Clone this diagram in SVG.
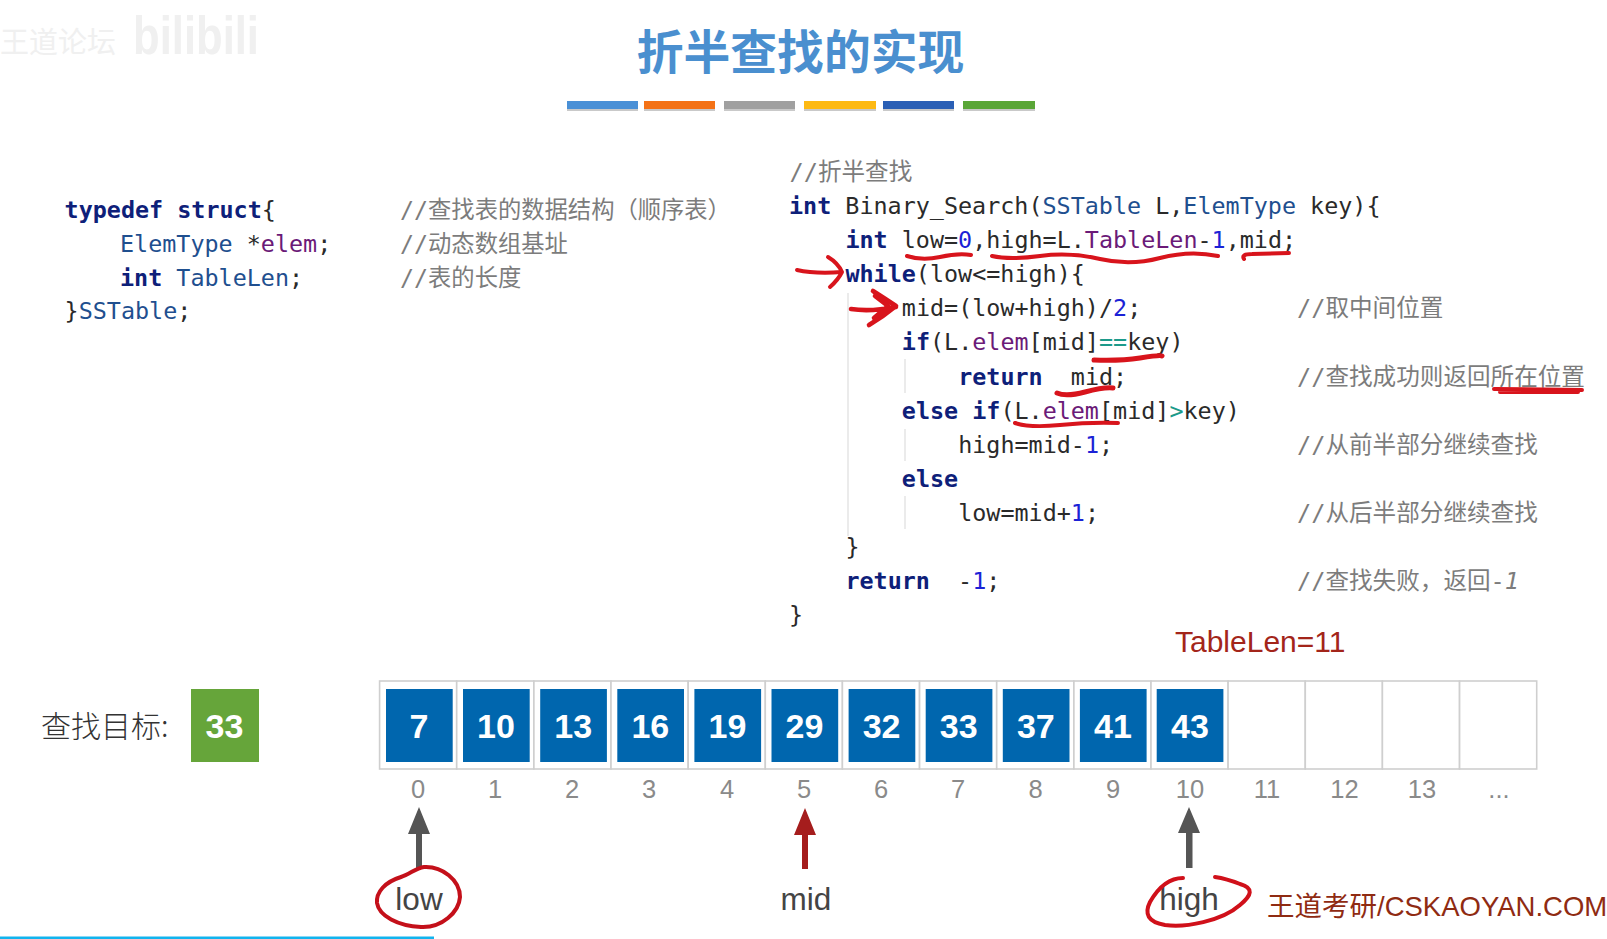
<svg xmlns="http://www.w3.org/2000/svg" width="1607" height="939" viewBox="0 0 1607 939">
<style>
text{white-space:pre}
.c{font-family:"DejaVu Sans Mono","Noto Sans CJK SC",monospace;font-size:23.4px;fill:#2a2a2a}
.k{font-weight:bold;fill:#0e2079}
.n{fill:#1b22d6}
.f{fill:#6b1a78}
.t{fill:#1f4f8f}
.o{fill:#1c9a8a}
.m{font-family:"DejaVu Sans Mono","Noto Sans CJK SC",monospace;font-size:23.6px;fill:#7c7c7c}
.s{font-size:23.3px}
.i{font-family:"Liberation Sans",sans-serif;font-size:25.5px;fill:#8a8a8a;text-anchor:middle}
.v{font-family:"Liberation Sans",sans-serif;font-size:34px;font-weight:bold;fill:#fff;text-anchor:middle}
.p{font-family:"Liberation Sans",sans-serif;font-size:31.5px;fill:#444;text-anchor:middle}
.cell{fill:#fff;stroke:#cfcfcf;stroke-width:1.6}
.box{fill:#0066ae}
.r{fill:none;stroke:#d8141c;stroke-width:4;stroke-linecap:round;stroke-linejoin:round}
.g{stroke:#e4e4e4;stroke-width:1.5}
</style>
<rect width="1607" height="939" fill="#fff"/>
<g id="watermark" fill="#f0f0f0">
<text x="0" y="53" font-family="'Noto Sans CJK SC',sans-serif" font-size="29">王道论坛</text>
<text x="133" y="54" font-family="'Liberation Sans',sans-serif" font-size="54" font-weight="bold" textLength="126" lengthAdjust="spacingAndGlyphs">bilibili</text>
</g>
<g id="title">
<text x="800.5" y="68.5" text-anchor="middle" font-family="'Noto Sans CJK SC',sans-serif" font-size="46.8" font-weight="bold" fill="#4a8fcf">折半查找的实现</text>
<rect x="567" y="103" width="71" height="8" fill="#c9c9c9"/><rect x="644" y="103" width="71" height="8" fill="#c9c9c9"/><rect x="724" y="103" width="71" height="8" fill="#c9c9c9"/><rect x="804" y="103" width="72" height="8" fill="#c9c9c9"/><rect x="883" y="103" width="71" height="8" fill="#c9c9c9"/><rect x="963" y="103" width="72" height="8" fill="#c9c9c9"/>
<rect x="567" y="101" width="71" height="8" fill="#4a90d6"/>
<rect x="644" y="101" width="71" height="8" fill="#f47216"/>
<rect x="724" y="101" width="71" height="8" fill="#a0a0a0"/>
<rect x="804" y="101" width="72" height="8" fill="#fdb913"/>
<rect x="883" y="101" width="71" height="8" fill="#2a5fb5"/>
<rect x="963" y="101" width="72" height="8" fill="#5aa637"/>
</g>
<g id="struct-code" transform="translate(-1,0.6)">
<text class="c" x="65.6" y="217"><tspan class="k">typedef struct</tspan>{</text>
<text class="c" x="121" y="251"><tspan class="t">ElemType</tspan> *<tspan class="f">elem</tspan>;</text>
<text class="c" x="121" y="285"><tspan class="k">int</tspan> <tspan class="t">TableLen</tspan>;</text>
<text class="c" x="65.6" y="318.5">}<tspan class="t">SSTable</tspan>;</text>
<text class="m s" x="401" y="217">//查找表的数据结构（顺序表）</text>
<text class="m s" x="401" y="251">//动态数组基址</text>
<text class="m s" x="401" y="285">//表的长度</text>
</g>
<g id="search-code" transform="translate(-1,1)">
<line class="g" x1="849" y1="292" x2="849" y2="535"/>
<line class="g" x1="906" y1="358" x2="906" y2="392"/>
<line class="g" x1="906" y1="428" x2="906" y2="460"/>
<line class="g" x1="906" y1="495" x2="906" y2="528"/>
<text class="m" x="790.500" y="179">//折半查找</text>
<text class="c" x="790" y="213"><tspan class="k">int</tspan> Binary_Search(<tspan class="t">SSTable</tspan> L,<tspan class="t">ElemType</tspan> key){</text>
<text class="c" x="846.4" y="247.1"><tspan class="k">int</tspan> low=<tspan class="n">0</tspan>,high=L.<tspan class="f">TableLen</tspan>-<tspan class="n">1</tspan>,mid;</text>
<text class="c" x="846.4" y="281.2"><tspan class="k">while</tspan>(low&lt;=high){</text>
<text class="c" x="902.8" y="315.3">mid=(low+high)/<tspan class="n">2</tspan>;</text>
<text class="c" x="902.8" y="349.4"><tspan class="k">if</tspan>(L.<tspan class="f">elem</tspan>[mid]<tspan class="o">==</tspan>key)</text>
<text class="c" x="959.2" y="383.5"><tspan class="k">return</tspan>  mid;</text>
<text class="c" x="902.8" y="417.6"><tspan class="k">else if</tspan>(L.<tspan class="f">elem</tspan>[mid]<tspan class="o">&gt;</tspan>key)</text>
<text class="c" x="959.2" y="451.7">high=mid-<tspan class="n">1</tspan>;</text>
<text class="c" x="902.8" y="485.8"><tspan class="k">else</tspan></text>
<text class="c" x="959.2" y="519.9">low=mid+<tspan class="n">1</tspan>;</text>
<text class="c" x="846.4" y="554">}</text>
<text class="c" x="846.4" y="588.1"><tspan class="k">return</tspan>  -<tspan class="n">1</tspan>;</text>
<text class="c" x="790" y="622.2">}</text>
<text class="m" x="1298" y="315.3">//取中间位置</text>
<text class="m" x="1298" y="383.5">//查找成功则返回所在位置</text>
<text class="m" x="1298" y="451.7">//从前半部分继续查找</text>
<text class="m" x="1298" y="519.9">//从后半部分继续查找</text>
<text class="m" x="1298" y="588.1">//查找失败，返回-<tspan font-style="italic">1</tspan></text>
</g>
<g id="annotations">
<path class="r" d="M907 256Q922 261 940 257T971 255"/>
<path class="r" d="M992 256Q1010 260 1040 256T1100 259T1160 258T1218 256"/>
<path class="r" d="M1244 259Q1241 254 1252 254L1289 253"/>
<path class="r" d="M797 270Q815 274 842 272M828 257Q838 263 842 272Q838 280 830 287"/>
<path class="r" d="M851 309Q870 312 896 307M873 291Q884 298 896 306Q884 316 869 325M875 296L888 306L874 318" style="stroke-width:4.6"/>
<path class="r" d="M1094 360Q1120 361 1140 358T1162 356" style="stroke-width:5"/>
<path class="r" d="M1057 393Q1066 397 1085 392T1113 388" style="stroke-width:5"/>
<path class="r" d="M1015 423Q1030 428 1060 425T1118 423"/>
<path class="r" d="M1494 389L1582 390M1500 392L1578 392"/>
</g>
<g id="target">
<text x="41" y="737" font-family="'Noto Sans CJK SC',sans-serif" font-size="30" font-weight="300" fill="#333">查找目标:</text>
<rect x="191" y="689" width="68" height="73" fill="#66a53a"/>
<text class="v" x="224.500" y="738">33</text>
</g>
<g id="table">
<rect class="cell" x="379.6" y="681" width="77.1" height="88"/>
<rect class="cell" x="456.7" y="681" width="77.1" height="88"/>
<rect class="cell" x="533.9" y="681" width="77.1" height="88"/>
<rect class="cell" x="611" y="681" width="77.1" height="88"/>
<rect class="cell" x="688.2" y="681" width="77.1" height="88"/>
<rect class="cell" x="765.3" y="681" width="77.1" height="88"/>
<rect class="cell" x="842.4" y="681" width="77.1" height="88"/>
<rect class="cell" x="919.6" y="681" width="77.1" height="88"/>
<rect class="cell" x="996.7" y="681" width="77.1" height="88"/>
<rect class="cell" x="1073.9" y="681" width="77.1" height="88"/>
<rect class="cell" x="1151" y="681" width="77.1" height="88"/>
<rect class="cell" x="1228.1" y="681" width="77.1" height="88"/>
<rect class="cell" x="1305.3" y="681" width="77.1" height="88"/>
<rect class="cell" x="1382.4" y="681" width="77.1" height="88"/>
<rect class="cell" x="1459.6" y="681" width="77.1" height="88"/>
<rect class="box" x="386" y="689" width="66.7" height="73"/>
<rect class="box" x="463" y="689" width="66.7" height="73"/>
<rect class="box" x="540.200" y="689" width="66.7" height="73"/>
<rect class="box" x="617.3" y="689" width="66.7" height="73"/>
<rect class="box" x="694.4" y="689" width="66.7" height="73"/>
<rect class="box" x="771.500" y="689" width="66.7" height="73"/>
<rect class="box" x="848.6" y="689" width="66.7" height="73"/>
<rect class="box" x="925.700" y="689" width="66.7" height="73"/>
<rect class="box" x="1002.8" y="689" width="66.7" height="73"/>
<rect class="box" x="1079.9" y="689" width="66.7" height="73"/>
<rect class="box" x="1156.7" y="689" width="66.7" height="73"/>
<text class="v" x="419" y="738">7</text>
<text class="v" x="496" y="738">10</text>
<text class="v" x="573.2" y="738">13</text>
<text class="v" x="650.3" y="738">16</text>
<text class="v" x="727.4" y="738">19</text>
<text class="v" x="804.500" y="738">29</text>
<text class="v" x="881.6" y="738">32</text>
<text class="v" x="958.7" y="738">33</text>
<text class="v" x="1035.8" y="738">37</text>
<text class="v" x="1112.9" y="738">41</text>
<text class="v" x="1190" y="738">43</text>
<text class="i" x="418" y="798">0</text>
<text class="i" x="495" y="798">1</text>
<text class="i" x="572" y="798">2</text>
<text class="i" x="649" y="798">3</text>
<text class="i" x="727" y="798">4</text>
<text class="i" x="804" y="798">5</text>
<text class="i" x="881" y="798">6</text>
<text class="i" x="958" y="798">7</text>
<text class="i" x="1035.5" y="798">8</text>
<text class="i" x="1113" y="798">9</text>
<text class="i" x="1190" y="798">10</text>
<text class="i" x="1267" y="798">11</text>
<text class="i" x="1344.5" y="798">12</text>
<text class="i" x="1422" y="798">13</text>
<text class="i" x="1499" y="798">...</text>
<text x="1175" y="652" font-family="'Liberation Sans',sans-serif" font-size="30" fill="#a3251a">TableLen=11</text>
</g>
<g id="connectors">
<path fill="#555" d="M419 807L430 834H422V868H416V834H408Z"/>
<path fill="#a51d1d" d="M805 808L816 835H808V869H802V835H794Z"/>
<path fill="#555" d="M1189 807L1200 833H1192.500V868H1186V833H1178Z"/>
</g>
<g id="pointer-low">
<text class="p" x="419" y="910">low</text>
<path class="r" d="M401 877C385 882 376 892 377 903C379 916 398 926 421 927C442 928 459 912 460 897C460 880 442 866 424 867C416 868 410 874 401 877Z" style="stroke:#c4101a"/>
</g>
<g id="pointer-mid">
<text class="p" x="806" y="910">mid</text>
</g>
<g id="pointer-high">
<text class="p" x="1189" y="910">high</text>
<path class="r" style="stroke:#d0101a" d="M1183 878C1168 878 1158 888 1150 902C1144 914 1148 922 1165 925C1185 928 1222 921 1240 905C1252 895 1254 888 1240 884C1230 880 1222 878 1215 877"/>
</g>
<g id="footer">
<text x="1267" y="916" font-family="'Liberation Sans','Noto Sans CJK SC',sans-serif" font-size="27.5" fill="#8f2b12">王道考研/CSKAOYAN.COM</text>
<rect x="0" y="936.500" width="434" height="2.500" fill="#12b4ee"/>
</g>
</svg>
